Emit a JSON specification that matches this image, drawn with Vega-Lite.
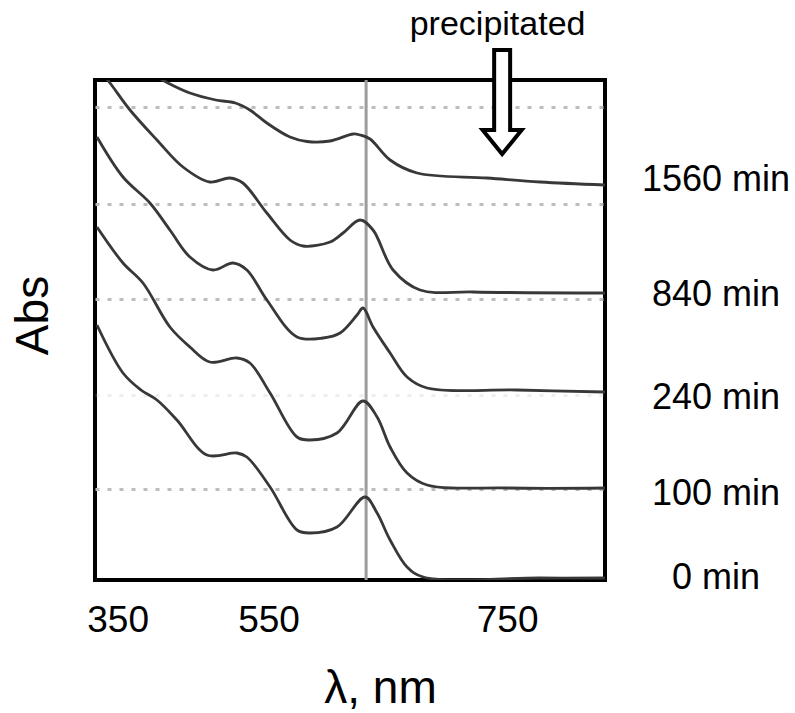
{
  "$schema": "https://vega.github.io/schema/vega-lite/v6.json",
  "autosize": "none",
  "width": 510,
  "height": 500,
  "padding": {"left": 95, "top": 80, "right": 190, "bottom": 133},
  "background": "white",
  "config": {
    "view": {"stroke": "black", "strokeWidth": 4},
    "font": "Liberation Sans"
  },
  "datasets": {
    "spectra": [
      {"series": "1560 min", "nm": 400.8, "abs": 5.04},
      {"series": "1560 min", "nm": 416.7, "abs": 4.97},
      {"series": "1560 min", "nm": 445.8, "abs": 4.87},
      {"series": "1560 min", "nm": 480.1, "abs": 4.80},
      {"series": "1560 min", "nm": 506.1, "abs": 4.77},
      {"series": "1560 min", "nm": 525.3, "abs": 4.70},
      {"series": "1560 min", "nm": 547.8, "abs": 4.57},
      {"series": "1560 min", "nm": 568.0, "abs": 4.43},
      {"series": "1560 min", "nm": 582.3, "abs": 4.385},
      {"series": "1560 min", "nm": 601.6, "abs": 4.39},
      {"series": "1560 min", "nm": 621.0, "abs": 4.46},
      {"series": "1560 min", "nm": 626.7, "abs": 4.45},
      {"series": "1560 min", "nm": 635.1, "abs": 4.41},
      {"series": "1560 min", "nm": 651.9, "abs": 4.20},
      {"series": "1560 min", "nm": 674.5, "abs": 4.07},
      {"series": "1560 min", "nm": 733.2, "abs": 4.02},
      {"series": "1560 min", "nm": 777.7, "abs": 3.98},
      {"series": "1560 min", "nm": 832.0, "abs": 3.95},

      {"series": "840 min", "nm": 327.9, "abs": 5.08},
      {"series": "840 min", "nm": 339.9, "abs": 4.97},
      {"series": "840 min", "nm": 366.4, "abs": 4.70},
      {"series": "840 min", "nm": 402.1, "abs": 4.40},
      {"series": "840 min", "nm": 436.6, "abs": 4.13},
      {"series": "840 min", "nm": 472.3, "abs": 3.98},
      {"series": "840 min", "nm": 498.8, "abs": 4.02},
      {"series": "840 min", "nm": 516.0, "abs": 3.97},
      {"series": "840 min", "nm": 547.8, "abs": 3.67},
      {"series": "840 min", "nm": 568.0, "abs": 3.40},
      {"series": "840 min", "nm": 578.9, "abs": 3.34},
      {"series": "840 min", "nm": 601.6, "abs": 3.38},
      {"series": "840 min", "nm": 612.5, "abs": 3.47},
      {"series": "840 min", "nm": 626.7, "abs": 3.60},
      {"series": "840 min", "nm": 637.6, "abs": 3.50},
      {"series": "840 min", "nm": 654.4, "abs": 3.10},
      {"series": "840 min", "nm": 677.0, "abs": 2.90},
      {"series": "840 min", "nm": 721.5, "abs": 2.88},
      {"series": "840 min", "nm": 832.0, "abs": 2.87},

      {"series": "240 min", "nm": 322.6, "abs": 4.43},
      {"series": "240 min", "nm": 357.1, "abs": 4.03},
      {"series": "240 min", "nm": 392.8, "abs": 3.77},
      {"series": "240 min", "nm": 419.3, "abs": 3.50},
      {"series": "240 min", "nm": 445.8, "abs": 3.23},
      {"series": "240 min", "nm": 476.3, "abs": 3.10},
      {"series": "240 min", "nm": 502.8, "abs": 3.17},
      {"series": "240 min", "nm": 521.3, "abs": 3.10},
      {"series": "240 min", "nm": 547.8, "abs": 2.80},
      {"series": "240 min", "nm": 573.9, "abs": 2.43},
      {"series": "240 min", "nm": 595.7, "abs": 2.42},
      {"series": "240 min", "nm": 610.0, "abs": 2.47},
      {"series": "240 min", "nm": 624.2, "abs": 2.65},
      {"series": "240 min", "nm": 629.2, "abs": 2.72},
      {"series": "240 min", "nm": 637.6, "abs": 2.53},
      {"series": "240 min", "nm": 651.9, "abs": 2.27},
      {"series": "240 min", "nm": 666.1, "abs": 2.03},
      {"series": "240 min", "nm": 682.9, "abs": 1.92},
      {"series": "240 min", "nm": 758.4, "abs": 1.90},
      {"series": "240 min", "nm": 832.0, "abs": 1.88},

      {"series": "100 min", "nm": 322.6, "abs": 3.53},
      {"series": "100 min", "nm": 357.1, "abs": 3.17},
      {"series": "100 min", "nm": 383.6, "abs": 2.97},
      {"series": "100 min", "nm": 419.3, "abs": 2.53},
      {"series": "100 min", "nm": 445.8, "abs": 2.33},
      {"series": "100 min", "nm": 472.3, "abs": 2.18},
      {"series": "100 min", "nm": 508.1, "abs": 2.22},
      {"series": "100 min", "nm": 525.3, "abs": 2.17},
      {"series": "100 min", "nm": 551.3, "abs": 1.87},
      {"series": "100 min", "nm": 573.9, "abs": 1.43},
      {"series": "100 min", "nm": 584.8, "abs": 1.40},
      {"series": "100 min", "nm": 607.4, "abs": 1.47},
      {"series": "100 min", "nm": 629.2, "abs": 1.79},
      {"series": "100 min", "nm": 641.0, "abs": 1.63},
      {"series": "100 min", "nm": 651.9, "abs": 1.33},
      {"series": "100 min", "nm": 666.1, "abs": 1.07},
      {"series": "100 min", "nm": 682.9, "abs": 0.95},
      {"series": "100 min", "nm": 750.0, "abs": 0.92},
      {"series": "100 min", "nm": 832.0, "abs": 0.92},

      {"series": "0 min", "nm": 322.6, "abs": 2.55},
      {"series": "0 min", "nm": 357.1, "abs": 2.07},
      {"series": "0 min", "nm": 380.9, "abs": 1.90},
      {"series": "0 min", "nm": 402.1, "abs": 1.80},
      {"series": "0 min", "nm": 428.6, "abs": 1.60},
      {"series": "0 min", "nm": 468.3, "abs": 1.25},
      {"series": "0 min", "nm": 508.1, "abs": 1.27},
      {"series": "0 min", "nm": 521.3, "abs": 1.23},
      {"series": "0 min", "nm": 551.3, "abs": 0.93},
      {"series": "0 min", "nm": 573.9, "abs": 0.50},
      {"series": "0 min", "nm": 584.8, "abs": 0.47},
      {"series": "0 min", "nm": 607.4, "abs": 0.53},
      {"series": "0 min", "nm": 630.9, "abs": 0.83},
      {"series": "0 min", "nm": 641.0, "abs": 0.67},
      {"series": "0 min", "nm": 651.9, "abs": 0.40},
      {"series": "0 min", "nm": 666.1, "abs": 0.13},
      {"series": "0 min", "nm": 679.6, "abs": 0.03},
      {"series": "0 min", "nm": 777.7, "abs": 0.02},
      {"series": "0 min", "nm": 832.0, "abs": 0.02}
    ],
    "labels": [
      {"label": "1560 min", "nm": 925, "abs": 4.00},
      {"label": "840 min", "nm": 925, "abs": 2.85},
      {"label": "240 min", "nm": 925, "abs": 1.82},
      {"label": "100 min", "nm": 925, "abs": 0.86},
      {"label": "0 min", "nm": 925, "abs": 0.02}
    ],
    "peak": [{"nm": 631.8}],
    "note": [{"text": "precipitated", "nm": 742, "abs": 5.45, "arrowNm": 745.8, "arrowAbs": 4.78}]
  },
  "layer": [
    {
      "data": {"name": "peak"},
      "mark": {"type": "rule", "color": "#9c9c9c", "strokeWidth": 3},
      "encoding": {
        "x": {
          "field": "nm", "type": "quantitative",
          "scale": {"type": "linear", "domain": [320, 550, 832], "range": [0, 173.5, 510], "nice": false, "zero": false},
          "axis": {
            "values": [350, 550, 750],
            "title": "λ, nm",
            "grid": false, "ticks": false, "domain": false,
            "labelFontSize": 37, "labelColor": "black", "labelPadding": 22,
            "labelFont": "Liberation Sans",
            "titleFont": "Liberation Sans", "titleFontSize": 46, "titleFontWeight": "normal", "titleColor": "black",
            "titleX": 285, "titleY": 122, "titleBaseline": "alphabetic", "titleAlign": "center", "titleAnchor": null
          }
        },
        "y": {
          "datum": 0, "type": "quantitative",
          "scale": {"domain": [0, 5], "nice": false, "zero": false},
          "axis": {
            "values": [4.73, 3.76, 2.81, 1.85, 0.91],
            "title": "Abs",
            "labels": false, "ticks": false, "domain": false,
            "grid": true, "gridColor": "#bdbdbd", "gridDash": [4, 8], "gridWidth": 3,
            "gridOpacity": {"condition": {"test": "datum.value == 1.85", "value": 0.25}, "value": 1},
            "titleFont": "Liberation Sans", "titleFontSize": 46, "titleFontWeight": "normal", "titleColor": "black",
            "titleX": -62, "titleY": 235, "titleAngle": -90, "titleBaseline": "middle", "titleAlign": "center"
          }
        },
        "y2": {"datum": 5}
      }
    },
    {
      "data": {"name": "spectra"},
      "mark": {"type": "line", "color": "#383838", "strokeWidth": 2.8, "interpolate": "catmull-rom", "clip": true},
      "encoding": {
        "x": {"field": "nm", "type": "quantitative"},
        "y": {"field": "abs", "type": "quantitative"},
        "detail": {"field": "series"}
      }
    },
    {
      "data": {"name": "labels"},
      "mark": {"type": "text", "fontSize": 36, "font": "Liberation Sans", "color": "black", "align": "center", "baseline": "middle", "clip": false},
      "encoding": {
        "x": {"field": "nm", "type": "quantitative"},
        "y": {"field": "abs", "type": "quantitative"},
        "text": {"field": "label"}
      }
    },
    {
      "data": {"name": "note"},
      "mark": {"type": "text", "fontSize": 34, "font": "Liberation Sans", "color": "black", "align": "center", "baseline": "alphabetic", "clip": false},
      "encoding": {
        "x": {"field": "nm", "type": "quantitative"},
        "y": {"field": "abs", "type": "quantitative"},
        "text": {"field": "text"}
      }
    },
    {
      "data": {"name": "note"},
      "mark": {
        "type": "point",
        "shape": "M -0.148 -0.963 L 0.148 -0.963 L 0.148 0.52 L 0.361 0.52 L 0 0.963 L -0.361 0.52 L -0.148 0.52 Z",
        "size": 11664, "filled": true, "fill": "white", "stroke": "black", "strokeWidth": 4, "opacity": 1, "strokeJoin": "miter", "clip": false
      },
      "encoding": {
        "x": {"field": "arrowNm", "type": "quantitative"},
        "y": {"field": "arrowAbs", "type": "quantitative"}
      }
    }
  ]
}
